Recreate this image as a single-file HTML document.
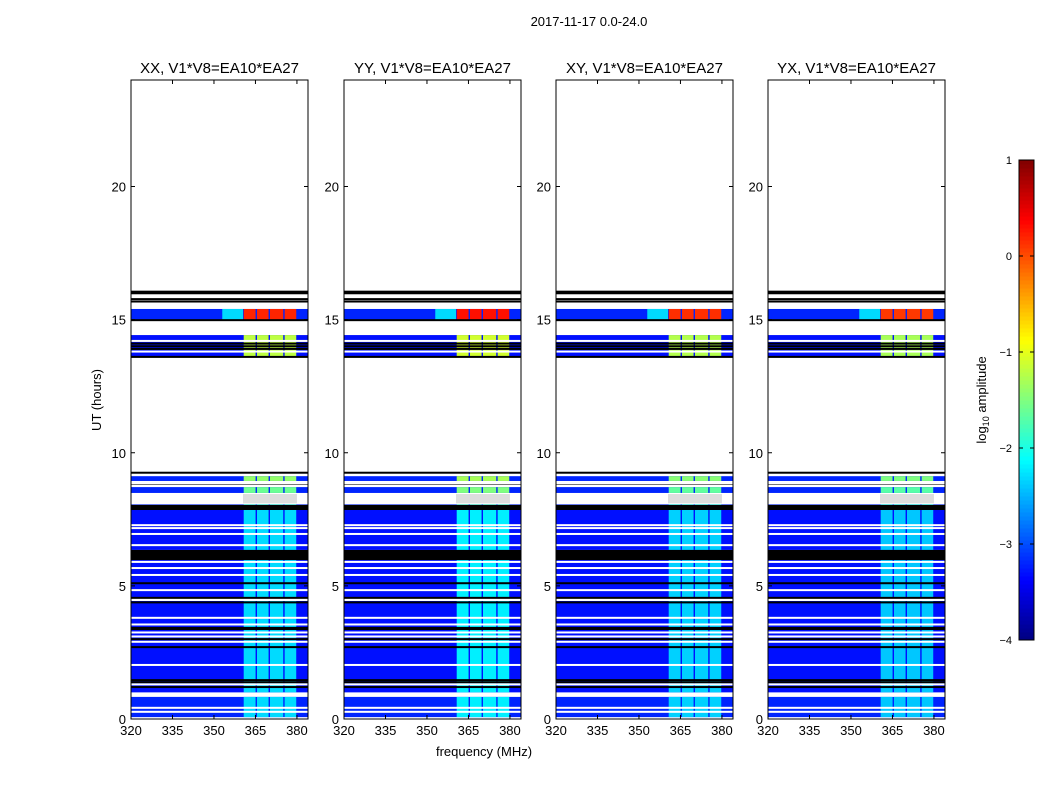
<!DOCTYPE html>
<html><head><meta charset="utf-8">
<style>
html,body{margin:0;padding:0;background:#fff;}
svg{display:block;font-family:"Liberation Sans","DejaVu Sans",sans-serif;}
</style></head>
<body>
<svg id="fig" width="1050" height="800" viewBox="0 0 1050 800">
<text x="589" y="26" font-size="13" text-anchor="middle">2017-11-17 0.0-24.0</text>
<text x="484" y="756" font-size="13" text-anchor="middle">frequency (MHz)</text>
<text transform="translate(101,400) rotate(-90)" font-size="13" text-anchor="middle">UT (hours)</text>
<text transform="translate(986,400) rotate(-90)" font-size="13" text-anchor="middle">log<tspan font-size="9" dy="3">10</tspan><tspan dy="-3"> amplitude</tspan></text>
</svg>
<script>
// ---- data ----
const panelTitles = ["XX, V1*V8=EA10*EA27","YY, V1*V8=EA10*EA27","XY, V1*V8=EA10*EA27","YX, V1*V8=EA10*EA27"];
const panelOffset = [0, 0.1, -0.05, -0.1];
const segStart = [14.98, 13.6, 8.94, 8.49, 7.85, 6.35, 4.55, 3.42, 2.67, 1.35, 1.0, 0.07];
const segEnd   = [15.4, 14.42, 9.12, 8.71, 8.06, 7.85, 5.97, 4.45, 3.42, 2.67, 1.35, 0.83];
const segBandLevel = [0.2, -1.2, -1.4, -1.6, -1.9, -2.3, -2.3, -2.3, -2.3, -2.3, -2.3, -2.3];
const segBgLevel = [-3.2, -3.3, -3.2, -3.2, -3.2, -3.3, -3.3, -3.3, -3.3, -3.3, -3.3, -3.2];
const blackBandStart = [5.97, 7.85];
const blackBandEnd = [6.35, 8.04];
const blackLines = [16.05, 15.99, 15.77, 15.68, 14.98, 14.1, 14.0, 13.9, 13.6, 9.25, 8.83, 5.1, 4.55, 4.38, 3.42, 3.38, 3.0, 2.7, 1.46, 1.38, 1.2];
const whiteLines = [14.2, 13.8, 8.85, 7.28, 7.17, 6.95, 6.53, 5.9, 5.67, 5.41, 4.84, 4.47, 3.8, 3.55, 3.25, 3.1, 2.9, 2.03, 1.3, 0.42, 0.27];
const bandEdges = [360.5, 365.3, 370.0, 375.3, 380.0];
const xTicks = [320, 335, 350, 365, 380];
const yTicks = [0, 5, 10, 15, 20];
const cbTicks = [1, 0, -1, -2, -3, -4];
// ---- layout ----
const panelX = [131, 344, 556, 768], pW = 177, pTop = 80, pBot = 719;
const fMin = 320, fMax = 384, hMax = 24;
const NS = "http://www.w3.org/2000/svg";
const svg = document.getElementById('fig');
function jet(v){const t=Math.max(0,Math.min(1,(v+4)/5));const c=x=>Math.round(255*Math.max(0,Math.min(1,1.5-Math.abs(x))));return `rgb(${c(4*t-3)},${c(4*t-2)},${c(4*t-1)})`;}
function el(tag, attrs, parent){const e=document.createElementNS(NS,tag);for(const k in attrs)e.setAttribute(k,attrs[k]);(parent||svg).appendChild(e);return e;}
const yS = h => pBot - h/hMax*(pBot-pTop);
panelX.forEach((px,pi)=>{
  const xS = f => px + (f-fMin)/(fMax-fMin)*pW;
  const g = el('g',{});
  
  
  segStart.forEach((s,i)=>{
    const y1=yS(segEnd[i]), y2=yS(s);
    const r=el('rect',{x:px,y:y1,width:pW,height:y2-y1,fill:jet(segBgLevel[i])},g);
    
    
    if(i===0){el('rect',{x:xS(353),y:y1,width:xS(360.5)-xS(353),height:y2-y1,fill:jet(-2.3)},g);}
    for(let b=0;b<bandEdges.length-1;b++){
      const c=el('rect',{x:xS(bandEdges[b])+0.7,y:y1,width:xS(bandEdges[b+1])-xS(bandEdges[b])-1.4,height:y2-y1,fill:jet(segBandLevel[i]+panelOffset[pi])},g);
      
      
    }
  });
  blackBandStart.forEach((s,i)=>{
    const b=el('rect',{x:px,y:yS(blackBandEnd[i]),width:pW,height:yS(s)-yS(blackBandEnd[i]),fill:'#000'},g);
    
    
  });
  blackLines.forEach(h=>{el('rect',{x:px,y:yS(h)-1,width:pW,height:2,fill:'#000'},g);});
  whiteLines.forEach(h=>{el('rect',{x:px,y:yS(h)-1,width:pW,height:2,fill:'#fff'},g);});
  el('rect',{x:xS(360.5),y:yS(8.45),width:xS(380)-xS(360.5),height:yS(8.1)-yS(8.45),fill:'#ddd'},g);
  const fr=el('rect',{x:px,y:pTop,width:pW,height:pBot-pTop,fill:'none',stroke:'#000','stroke-width':1},g);
  
  
  xTicks.forEach(t=>{
    el('line',{x1:xS(t),x2:xS(t),y1:pBot,y2:pBot-4,stroke:'#000'},g);
    el('line',{x1:xS(t),x2:xS(t),y1:pTop,y2:pTop+4,stroke:'#000'},g);
    const tx=el('text',{x:xS(t),y:pBot+16,'font-size':13,'text-anchor':'middle'},g);tx.textContent=t;
    
    
  });
  yTicks.forEach(t=>{
    el('line',{x1:px,x2:px+4,y1:yS(t),y2:yS(t),stroke:'#000'},g);
    el('line',{x1:px+pW,x2:px+pW-4,y1:yS(t),y2:yS(t),stroke:'#000'},g);
    const ty=el('text',{x:px-5,y:yS(t)+5,'font-size':13,'text-anchor':'end'},g);ty.textContent=t;
    
    
  });
  const tt=el('text',{x:px+pW/2,y:73,'font-size':15,'text-anchor':'middle'},g);tt.textContent=panelTitles[pi];
  
  
});
// colorbar
const cbX=1019, cbW=15, cbTop=160, cbBot=640;
const cbY = v => cbBot - (v+4)/5*(cbBot-cbTop);
const cb=el('g',{});


for(let i=0;i<120;i++){const v=-4+5*i/120;el('rect',{x:cbX,y:cbY(v+5/120),width:cbW,height:(cbBot-cbTop)/120+0.5,fill:jet(v+2.5/120)},cb);}
el('rect',{x:cbX,y:cbTop,width:cbW,height:cbBot-cbTop,fill:'none',stroke:'#000'},cb);
cbTicks.forEach(t=>{
  el('line',{x1:cbX,x2:cbX+4,y1:cbY(t),y2:cbY(t),stroke:'#000'},cb);
  el('line',{x1:cbX+cbW,x2:cbX+cbW-4,y1:cbY(t),y2:cbY(t),stroke:'#000'},cb);
  const l=el('text',{x:1012,y:cbY(t)+4,'font-size':11,'text-anchor':'end'},cb);l.textContent=t<0?'\u2212'+(-t):t;
  
  
});
</script>
</body></html>
